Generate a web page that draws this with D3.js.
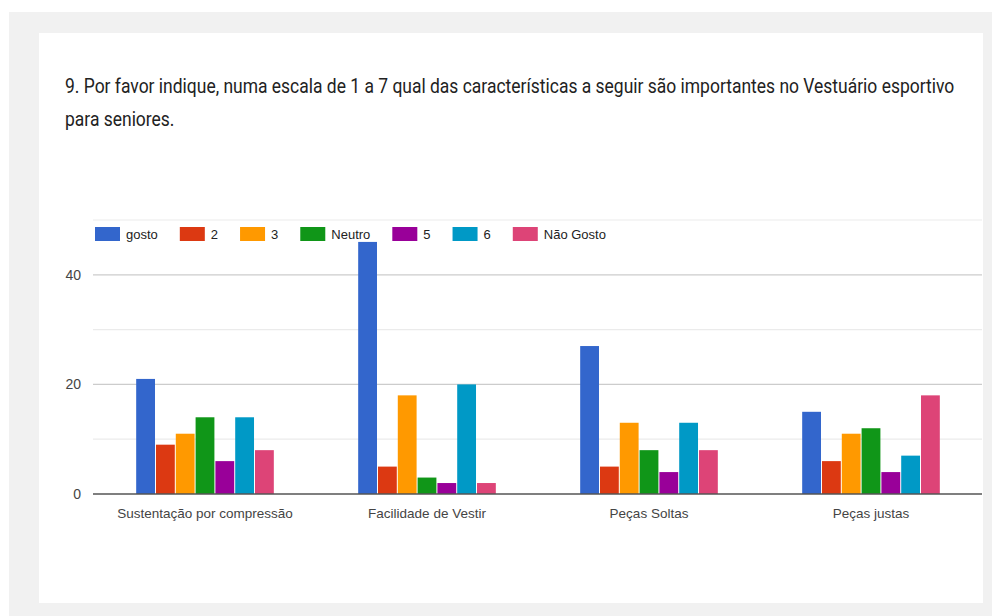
<!DOCTYPE html>
<html>
<head>
<meta charset="utf-8">
<script src="https://cdn.jsdelivr.net/npm/d3@7"></script>
<style>
  html, body { margin: 0; padding: 0; background: #ffffff; }
  svg { display: block; }
</style>
</head>
<body>
<svg id="chart" width="992" height="616"></svg>
<script>
const titleLines = [
  "9. Por favor indique, numa escala de 1 a 7 qual das características a seguir são importantes no Vestuário esportivo",
  "para seniores."
];
const categories = ["Sustentação por compressão", "Facilidade de Vestir", "Peças Soltas", "Peças justas"];
const seriesNames = ["gosto", "2", "3", "Neutro", "5", "6", "Não Gosto"];
const seriesColors = ["#3366cc", "#dc3912", "#ff9900", "#109618", "#990099", "#0099c6", "#dd4477"];
const gostoValues    = [21, 46, 27, 15];
const twoValues      = [9, 5, 5, 6];
const threeValues    = [11, 18, 13, 11];
const neutroValues   = [14, 3, 8, 12];
const fiveValues     = [6, 2, 4, 4];
const sixValues      = [14, 20, 13, 7];
const naoGostoValues = [8, 2, 8, 18];
const yTicks = [0, 10, 20, 30, 40, 50];
const yLabelTicks = [0, 20, 40];

const seriesValues = [gostoValues, twoValues, threeValues, neutroValues, fiveValues, sixValues, naoGostoValues];

const svg = d3.select("#chart");

// background panel and card
svg.append("rect").attr("x", 9).attr("y", 12).attr("width", 983).attr("height", 604).attr("fill", "#f1f1f1");
svg.append("rect").attr("x", 39).attr("y", 33).attr("width", 944).attr("height", 570).attr("fill", "#ffffff");

// title (condensed horizontally via scale so its box stays inside the card)
const titleFirstWidth = 890;
let sx = 1;
titleLines.forEach((t, i) => {
  const g = svg.append("g");
  const txt = g.append("text")
    .attr("x", 0).attr("y", 0)
    .attr("font-family", "Roboto, 'Liberation Sans', sans-serif")
    .attr("font-size", 20)
    .attr("fill", "#222222")
    .text(t);
  if (i === 0) sx = titleFirstWidth / txt.node().getComputedTextLength();
  g.attr("transform", `translate(65,${93 + i * 33}) scale(${sx},1)`);
});

// scales
const x0 = d3.scaleBand().domain(categories).range([94, 982]).paddingInner(0.38).paddingOuter(0.19);
const x1 = d3.scaleBand().domain(seriesNames).range([0, x0.bandwidth()]).paddingInner(0.05).paddingOuter(0);
const y = d3.scaleLinear().domain([0, 50]).range([494, 220]);
const color = d3.scaleOrdinal().domain(seriesNames).range(seriesColors);

// gridlines
svg.append("g").selectAll("line").data(yTicks.filter(d => d !== 0)).join("line")
  .attr("x1", 93).attr("x2", 982)
  .attr("y1", d => y(d)).attr("y2", d => y(d))
  .attr("stroke", d => (d % 20 === 0 ? "#cccccc" : "#ebebeb"))
  .attr("stroke-width", 1.2);

// y labels
const yAxis = d3.axisLeft(y).tickValues(yLabelTicks).tickSize(0).tickPadding(0).tickFormat(d3.format("d"));
const gy = svg.append("g").attr("transform", "translate(81,0)").call(yAxis);
gy.select(".domain").remove();
gy.selectAll("text")
  .attr("font-family", "'Liberation Sans', Arial, sans-serif")
  .attr("font-size", 14)
  .attr("fill", "#444444");

// bars
const groups = svg.append("g").selectAll("g").data(categories).join("g")
  .attr("transform", d => `translate(${x0(d)},0)`);
groups.selectAll("rect")
  .data((c, ci) => seriesNames.map((s, si) => ({ s, v: seriesValues[si][ci] })))
  .join("rect")
  .attr("x", d => x1(d.s))
  .attr("width", x1.bandwidth())
  .attr("y", d => y(d.v))
  .attr("height", d => y(0) - y(d.v))
  .attr("fill", d => color(d.s));

// baseline
svg.append("line").attr("x1", 93).attr("x2", 982).attr("y1", y(0)).attr("y2", y(0))
  .attr("stroke", "#555555").attr("stroke-width", 1.6);

// x axis labels
const xAxis = d3.axisBottom(x0).tickSize(0).tickPadding(0);
const gx = svg.append("g").attr("transform", `translate(0,${y(0) + 14})`).call(xAxis);
gx.select(".domain").remove();
gx.selectAll("text")
  .attr("font-family", "'Liberation Sans', Arial, sans-serif")
  .attr("font-size", 13.5)
  .attr("fill", "#444444");

// legend
const legend = svg.append("g").attr("transform", "translate(95,234)");
let lx = 0;
seriesNames.forEach((s, i) => {
  const g = legend.append("g").attr("transform", `translate(${lx},0)`);
  g.append("rect").attr("x", 0).attr("y", -7).attr("width", 25).attr("height", 14).attr("fill", color(s));
  const t = g.append("text").attr("x", 31).attr("y", 5)
    .attr("font-family", "'Liberation Sans', Arial, sans-serif")
    .attr("font-size", 13)
    .attr("fill", "#222222")
    .text(s);
  const w = t.node().getComputedTextLength();
  lx += 31 + w + 22;
});
</script>
</body>
</html>
